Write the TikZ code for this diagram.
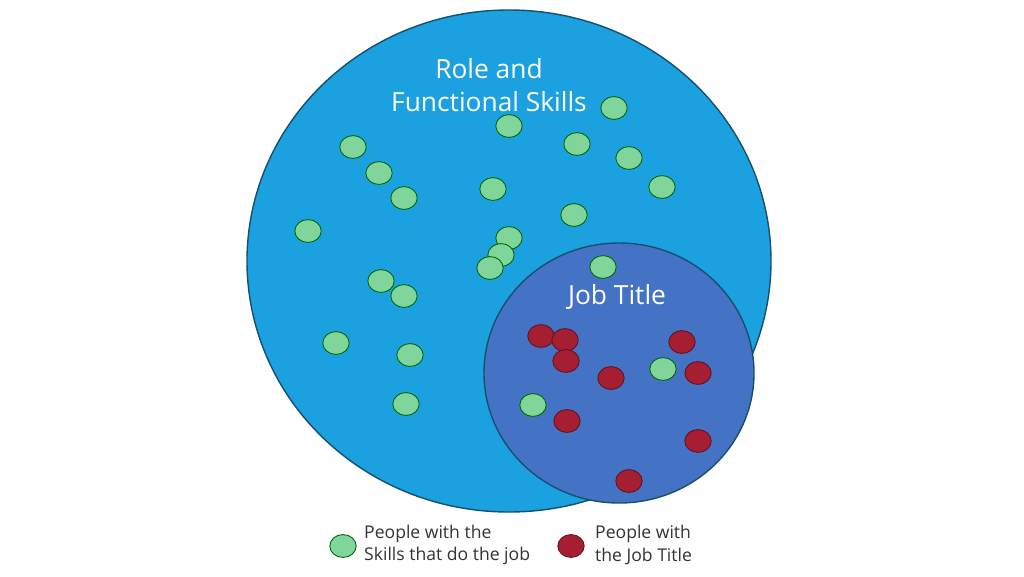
\documentclass[tikz,border=0pt]{standalone}
\usepackage{fontspec}
\setmainfont{Open Sans}
\definecolor{roleblue}{RGB}{27,161,224}
\definecolor{jobblue}{RGB}{68,114,196}
\definecolor{rimblue}{RGB}{22,80,110}
\definecolor{skillgreen}{RGB}{128,214,154}
\definecolor{titlered}{RGB}{165,30,50}
\tikzset{
  skill/.style={ellipse, draw=black!60!green, fill=skillgreen, minimum width=15, minimum height=13, inner sep=0pt, line width=0.5pt},
  holder/.style={ellipse, draw=titlered!60!black, fill=titlered, minimum width=15, minimum height=13, inner sep=0pt, line width=0.5pt},
}
\usetikzlibrary{shapes.geometric}
\begin{document}
\begin{tikzpicture}[x=0.02cm,y=-0.02cm]
    \useasboundingbox (0,0) rectangle (1024,576);
    \fill[white] (0,0) rectangle (1024,576);
    \draw[rimblue, fill=roleblue, line width=0.8pt] (509,261) ellipse [x radius=262, y radius=251];
    \draw[rimblue, fill=jobblue, line width=0.8pt] (619,373) ellipse [x radius=135, y radius=130];

    \foreach \x/\y in {353/147,379/173,404/198,308/231,509/126,577/144,614/108,629/158,662/187,493/189,
      574/215,509/238,501/255,490/268,381/281,404/296,603/267,336/343,410/355,406/404,533/405,663/369}
      {
        \node[skill] at (\x,\y) {};
      }
    \foreach \x/\y in {541/336,565/340,566/361,611/378,682/342,698/373,567/421,698/441,629/481}
      {
        \node[holder] at (\x,\y) {};
      }

    \node[white, font=\fontsize{15}{19}\selectfont, align=center] (role) at (489,85) {Role and\\Functional Skills};
    \node[white, font=\fontsize{15}{19}\selectfont] (job) at (617,297) {Job Title};

    \node[skill] (keyskill) at (343,546) {};
    \node[anchor=west, align=left, font=\fontsize{10}{13}\selectfont, text=black!80] (skilltext) at (358,545) {People with the\\Skills that do the job};
    \node[holder] (keyholder) at (571,546) {};
    \node[anchor=west, align=left, font=\fontsize{10}{13}\selectfont, text=black!80] (holdertext) at (589,545) {People with\\the Job Title};
\end{tikzpicture}
\end{document}
